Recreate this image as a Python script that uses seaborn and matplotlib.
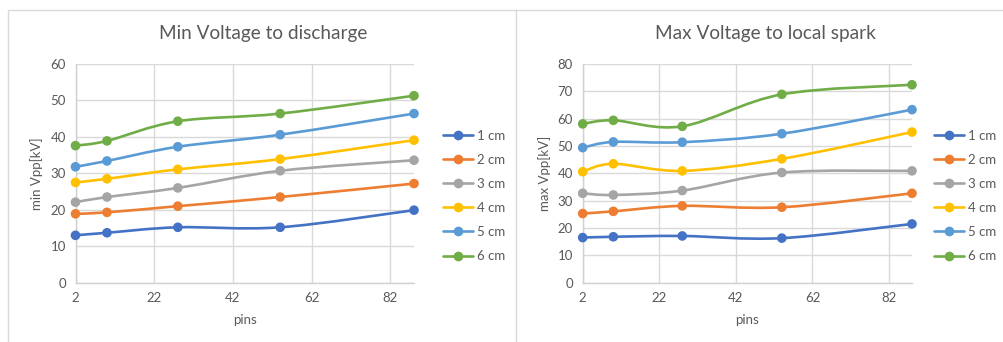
import numpy as np
import pandas as pd
import matplotlib
matplotlib.use("Agg")
import matplotlib.pyplot as plt
from matplotlib.path import Path
from matplotlib.patches import PathPatch
from matplotlib.lines import Line2D
import seaborn as sns

sns.set_theme(style="white")
plt.rcParams['font.family'] = ['Lato', 'DejaVu Sans']

pins = [2, 10, 28, 54, 88]
series_names = ["1 cm", "2 cm", "3 cm", "4 cm", "5 cm", "6 cm"]

min_1cm = [13.0, 13.7, 15.2, 15.2, 19.9]
min_2cm = [18.9, 19.3, 21.0, 23.5, 27.2]
min_3cm = [22.1, 23.5, 26.0, 30.7, 33.6]
min_4cm = [27.5, 28.5, 31.1, 33.9, 39.1]
min_5cm = [31.8, 33.4, 37.3, 40.6, 46.4]
min_6cm = [37.6, 38.9, 44.3, 46.4, 51.3]

max_1cm = [16.5, 16.8, 17.1, 16.3, 21.5]
max_2cm = [25.3, 26.1, 28.1, 27.6, 32.7]
max_3cm = [32.7, 32.1, 33.7, 40.3, 40.9]
max_4cm = [40.6, 43.5, 40.9, 45.3, 55.1]
max_5cm = [49.4, 51.5, 51.4, 54.5, 63.3]
max_6cm = [58.1, 59.4, 57.2, 68.9, 72.4]

colors = ["#4472C4", "#ED7D31", "#A5A5A5", "#FFC000", "#5B9BD5", "#70AD47"]
text_color = "#595959"
grid_color = "#D9D9D9"


def make_df(series):
    rows = []
    for name, vals in zip(series_names, series):
        for p, v in zip(pins, vals):
            rows.append({"pins": p, "value": v, "series": name})
    return pd.DataFrame(rows)


df_min = make_df([min_1cm, min_2cm, min_3cm, min_4cm, min_5cm, min_6cm])
df_max = make_df([max_1cm, max_2cm, max_3cm, max_4cm, max_5cm, max_6cm])


def smooth_path(x, y):
    # Excel-style smoothed line: cubic Bezier segments (Catmull-Rom control points)
    pts = np.column_stack([x, y]).astype(float)
    n = len(pts)
    verts = [pts[0]]
    codes = [Path.MOVETO]
    for i in range(n - 1):
        p0 = pts[i - 1] if i > 0 else pts[i]
        p1 = pts[i]
        p2 = pts[i + 1]
        p3 = pts[i + 2] if i + 2 < n else pts[i + 1]
        c1 = p1 + (p2 - p0) / 6.0
        c2 = p2 - (p3 - p1) / 6.0
        verts += [c1, c2, p2]
        codes += [Path.CURVE4] * 3
    return Path(verts, codes)


W, H = 1004, 342
fig = plt.figure(figsize=(W / 100, H / 100), dpi=100)

# chart-area borders
fig.add_artist(Line2D([8.5 / W, 1.0], [1 - 9.5 / H] * 2, color="#D9D9D9", lw=1.0))
fig.add_artist(Line2D([8.5 / W] * 2, [0, 1 - 9.5 / H], color="#D9D9D9", lw=1.0))
fig.add_artist(Line2D([516 / W] * 2, [0, 1 - 9.5 / H], color="#D9D9D9", lw=1.0))

bottom = 1 - 282.7 / H
top = 1 - 64 / H
ax1 = fig.add_axes([75.5 / W, bottom, (414 - 75.5) / W, top - bottom])
ax2 = fig.add_axes([582.7 / W, bottom, (912 - 582.7) / W, top - bottom])

specs = [
    (ax1, df_min, "Min Voltage to discharge", "min Vpp[kV]", 60, 10, 443, 263),
    (ax2, df_max, "Max Voltage to local spark", "max Vpp[kV]", 80, 10, 934, 765),
]

fs = 9.5
for ax, df, title, ylabel, ymax, ystep, legx, titlex in specs:
    for name, col in zip(series_names, colors):
        sub = df[df["series"] == name]
        ax.add_patch(PathPatch(smooth_path(sub["pins"].values, sub["value"].values),
                               facecolor="none", edgecolor=col, lw=1.9,
                               capstyle="round", joinstyle="round", zorder=3))
    sns.scatterplot(data=df, x="pins", y="value", hue="series", palette=colors,
                    hue_order=series_names, s=48, edgecolor="none", ax=ax,
                    legend=False, zorder=4, clip_on=False)
    ax.set_xlim(2, 88)
    ax.set_ylim(0, ymax)
    ax.set_xticks([2, 22, 42, 62, 82])
    ax.set_yticks(np.arange(0, ymax + 1, ystep))
    ax.grid(True, color=grid_color, lw=1.0)
    ax.set_axisbelow(True)
    for s in ["top", "right"]:
        ax.spines[s].set_visible(False)
    for s in ["left", "bottom"]:
        ax.spines[s].set_color("#D0D0D0")
        ax.spines[s].set_linewidth(1.0)
    ax.tick_params(axis="both", length=0, labelsize=fs, colors=text_color, pad=7)
    fig.text(titlex / W, 1 - 34 / H, title, fontsize=13.7, color=text_color,
             ha="center", va="center")
    ax.set_xlabel("pins", fontsize=fs, color=text_color, labelpad=7)
    ax.set_ylabel(ylabel, fontsize=fs, color=text_color, labelpad=5)

    handles = [Line2D([0], [0], color=c, lw=1.9, marker="o", markersize=7,
                      markeredgewidth=0) for c in colors]
    fig.legend(handles, series_names, loc="upper left",
               bbox_to_anchor=(legx / W, 1 - 129.5 / H), frameon=False,
               fontsize=fs, labelcolor=text_color, handlelength=2.3,
               handletextpad=0.25, labelspacing=0.92, borderaxespad=0,
               borderpad=0)

fig.savefig("out.png", dpi=100)
